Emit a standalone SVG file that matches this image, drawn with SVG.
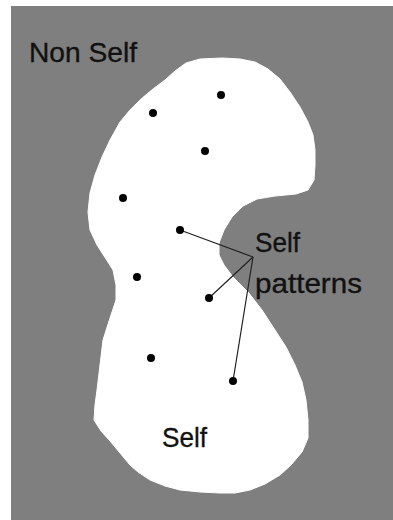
<svg xmlns="http://www.w3.org/2000/svg" width="393" height="520" viewBox="0 0 393 520">
<style>
.lbl{font-family:"Liberation Sans",Arial,sans-serif;font-size:28px;fill:#111;stroke:#111;stroke-width:0.35}
.dot{fill:#000}
.con{stroke:#222;stroke-width:1.2;fill:none}
</style>
<rect x="0" y="0" width="393" height="520" fill="#fff"/>
<rect x="11" y="6" width="382" height="514" fill="#7f7f7f"/>
<g id="self-region">
<polygon fill="#fff" stroke="#fff" stroke-width="1" stroke-linejoin="round" points="200,59 222,58 240,59 255,62 268,69 280,79 290,92 300,107 308,122 313,135 315,150 315,165 314,180 308,190 296,194 275,196 257,199 243,206 232,217 224,230 219,243 219,255 224,265 233,277 248,292 262,310 275,330 286,347 295,365 302,382 306,400 308,420 308,438 302,452 291,465 280,475 265,484 250,490 235,493 220,493 200,492 180,490 165,486 150,480 138,472 130,465 120,453 110,441 101,431 94,420 95,405 97,390 100,365 103,340 110,318 116,300 116,285 113,270 106,259 97,245 90,230 88,212 90,193 95,175 102,157 110,140 120,122 130,110 141,99 153,89 165,80 175,71 186,63"/>
</g>
<g id="connectors">
<line class="con" x1="180" y1="230" x2="253" y2="257"/>
<line class="con" x1="209" y1="298" x2="253" y2="257"/>
<line class="con" x1="233" y1="381" x2="253" y2="257"/>
</g>
<g id="patterns">
<circle class="dot" cx="153" cy="113" r="4"/>
<circle class="dot" cx="221" cy="95" r="4"/>
<circle class="dot" cx="205" cy="151" r="4"/>
<circle class="dot" cx="123" cy="198" r="4"/>
<circle class="dot" cx="180" cy="230" r="4"/>
<circle class="dot" cx="137" cy="277" r="4"/>
<circle class="dot" cx="209" cy="298" r="4"/>
<circle class="dot" cx="151" cy="358" r="4"/>
<circle class="dot" cx="233" cy="381" r="4"/>
</g>
<g id="labels">
<text class="lbl" x="29" y="62" textLength="108" lengthAdjust="spacingAndGlyphs">Non Self</text>
<text class="lbl" x="255" y="252" textLength="45" lengthAdjust="spacingAndGlyphs">Self</text>
<text class="lbl" x="255" y="293" textLength="107" lengthAdjust="spacingAndGlyphs">patterns</text>
<text class="lbl" x="162" y="447" textLength="45" lengthAdjust="spacingAndGlyphs">Self</text>
</g>
</svg>
